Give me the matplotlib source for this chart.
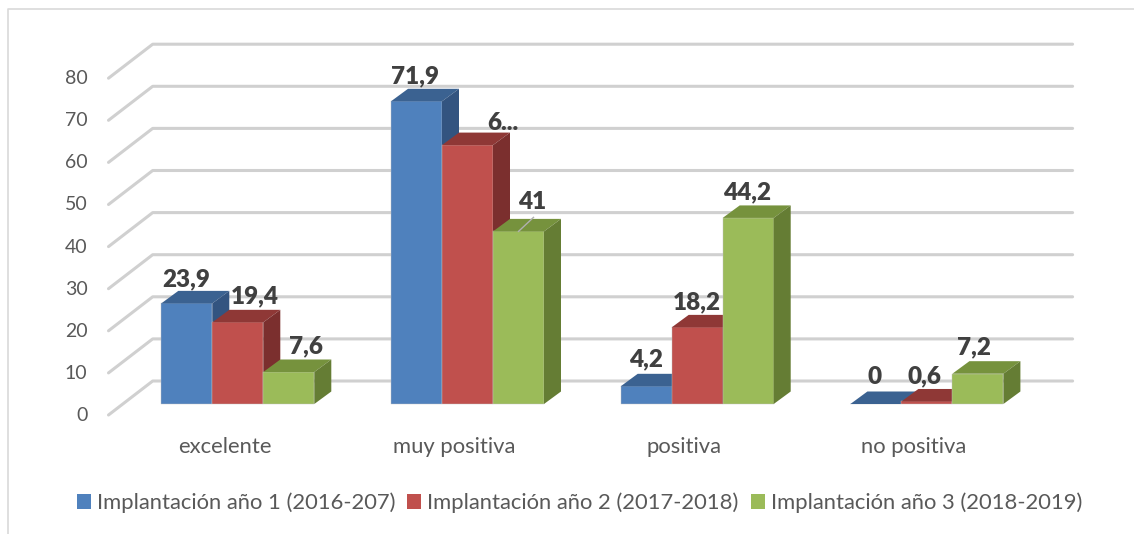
import matplotlib
matplotlib.use("Agg")
import matplotlib.pyplot as plt
from matplotlib.patches import Polygon, Patch
from matplotlib.lines import Line2D

plt.rcParams['font.family'] = ['Lato', 'DejaVu Sans']

# ---- data ----
categories = ["excelente", "muy positiva", "positiva", "no positiva"]
series_names = ["Implantación año 1 (2016-207)",
                "Implantación año 2 (2017-2018)",
                "Implantación año 3 (2018-2019)"]
year1 = [23.9, 71.9, 4.2, 0]
year2 = [19.4, 61.5, 18.2, 0.6]
year3 = [7.6, 41, 44.2, 7.2]
labels1 = ["23,9", "71,9", "4,2", "0"]
labels2 = ["19,4", "6...", "18,2", "0,6"]
labels3 = ["7,6", "41", "44,2", "7,2"]
y_ticks = [0, 10, 20, 30, 40, 50, 60, 70, 80]

# ---- style / layout ----
W, H = 1134, 534
PITCH = 229.7       # px per category
UNIT = 4.21         # px per value unit
X0 = 237.8          # px of first group centre
Y0 = 404.0          # px of the value 0 on the bar front
BAR_W = 51 / PITCH
DX, DY = 17 / PITCH, 12.5 / UNIT

front = ["#4f81bd", "#c0504d", "#9bbb59"]
top = ["#3b6291", "#8f3836", "#76923d"]
side = ["#335480", "#7b2f2e", "#657d34"]
TXT = "#595959"
LBL = "#404040"

# label offsets in pixels from the top-centre of each bar's front face
off1 = [(-1, 24), (-2, 25), (0, 27), (-1, 27)]
off2 = [(17, 26), (35, 22), (0, 25), (-2, 25)]
off3 = [(17, 26), (14, 29), (-1, 26), (-4, 26)]

fig = plt.figure(figsize=(W / 100, H / 100), dpi=100, facecolor="white")
ax = fig.add_axes([0, 0, 1, 1])
ax.set_xlim(-X0 / PITCH, (W - X0) / PITCH)
ax.set_ylim(-(H - Y0) / UNIT, Y0 / UNIT)
ax.axis("off")

# chart frame (only top and left are visible in the crop)
fig.add_artist(Line2D([7.5 / W, 7.5 / W, 1], [0, 1 - 8.5 / H, 1 - 8.5 / H],
                      color="#d9d9d9", lw=1.2))

# gridlines: front-left stub, floor diagonal, back wall
fx = (108.5 - X0) / PITCH
bx = (152.7 - X0) / PITCH
rx = (1072.6 - X0) / PITCH
for v in y_ticks:
    yf = v - 11 / UNIT
    yb = v + 23 / UNIT
    ax.plot([fx, bx, rx], [yf, yb, yb], color="#d0d0d0", lw=2.2,
            solid_capstyle="round", solid_joinstyle="round", zorder=1)
    ax.annotate(str(v), (fx, v), xytext=(-21, -11.5), textcoords="offset pixels",
                ha="right", va="center", fontsize=14, color=TXT)

# bars
all_series = [year1, year2, year3]
for s, values in enumerate(all_series):
    xs = [i + (s - 1.5) * BAR_W for i in range(len(values))]
    ax.bar(xs, values, width=BAR_W, align="edge", color=front[s],
           edgecolor="#c4c4c4", linewidth=0.3, zorder=3 + s)
    for x, v in zip(xs, values):
        ax.add_patch(Polygon([(x, v), (x + BAR_W, v), (x + BAR_W + DX, v + DY), (x + DX, v + DY)],
                             closed=True, facecolor=top[s], edgecolor="none", zorder=3 + s))
        if v > 0:
            ax.add_patch(Polygon([(x + BAR_W, 0), (x + BAR_W + DX, DY), (x + BAR_W + DX, v + DY), (x + BAR_W, v)],
                                 closed=True, facecolor=side[s], edgecolor="none", zorder=3 + s))

# leader line of the "41" label
ax.plot([1 + BAR_W, 1 + BAR_W + 15 / PITCH], [year3[1], year3[1] + 14 / UNIT],
        color="#b0b0b0", lw=1, zorder=8)

# data labels
for s, (values, labs, offs) in enumerate(zip(all_series, [labels1, labels2, labels3], [off1, off2, off3])):
    for i, (v, lab, off) in enumerate(zip(values, labs, offs)):
        x = i + (s - 1) * BAR_W
        ax.annotate(lab, (x, v), xytext=off, textcoords="offset pixels",
                    ha="center", va="center", fontsize=17.5, fontweight="heavy",
                    color=LBL, zorder=10)

# category labels
for i, c in enumerate(categories):
    ax.annotate(c, (i, 0), xytext=(-13, -43), textcoords="offset pixels",
                ha="center", va="center", fontsize=15.8, color=TXT)

# legend
handles = [Patch(facecolor=c, edgecolor="none") for c in front]
ax.legend(handles, series_names, ncol=3, frameon=False, loc="center",
          bbox_to_anchor=(579.5 / W, 1 - 503 / H), bbox_transform=fig.transFigure,
          fontsize=15.8, labelcolor=TXT, handlelength=0.64, handleheight=0.64,
          handletextpad=0.27, columnspacing=0.55, borderpad=0, borderaxespad=0)

fig.savefig("out.png", dpi=100, facecolor="white")
